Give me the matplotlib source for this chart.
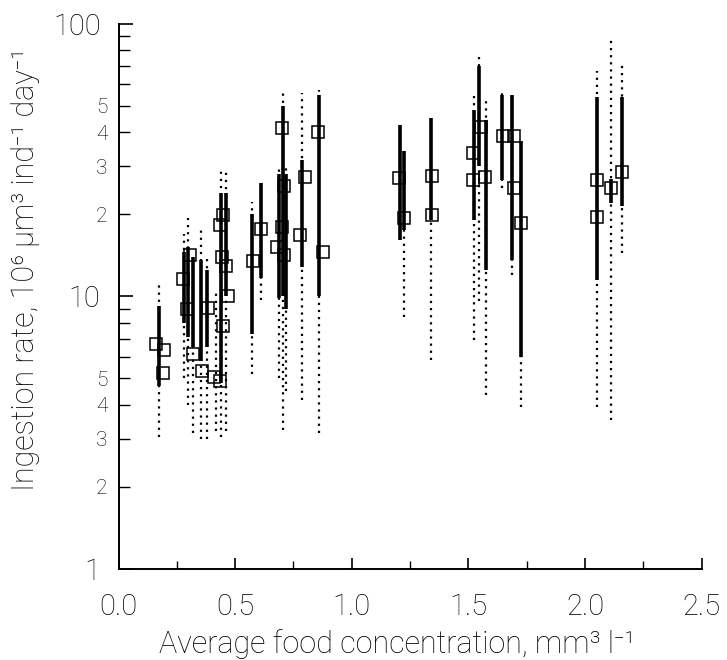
import matplotlib
matplotlib.use("Agg")
import matplotlib.pyplot as plt
from matplotlib.ticker import FixedLocator, FixedFormatter

# ---- data: vertical columns of individual observations ----
col_x       = [0.175, 0.28, 0.30, 0.32, 0.355, 0.38, 0.42, 0.44, 0.46,
               0.573, 0.613, 0.69, 0.705, 0.72, 0.788, 0.859,
               1.206, 1.224, 1.342, 1.524, 1.545, 1.574, 1.645, 1.688, 1.724,
               2.053, 2.113, 2.157]
col_top     = [11.0, 17.0, 19.4, 14.0, 17.5, 14.0, 10.6, 29.0, 28.7,
               22.2, 26.1, 30.0, 55.7, 30.0, 55.7, 57.1,
               42.4, 34.4, 45.1, 55.0, 75.9, 51.9, 55.7, 55.7, 37.5,
               66.9, 87.6, 71.8]
col_bottom  = [3.06, 5.0, 4.0, 3.15, 3.0, 3.0, 3.2, 3.06, 3.2,
               5.2, 9.7, 5.0, 3.23, 4.5, 4.17, 3.15,
               16.1, 8.4, 5.84, 6.9, 9.6, 4.35, 25.0, 12.0, 3.94,
               3.94, 3.52, 14.4]
dense_top   = [9.2, 14.5, 15.2, 14.0, 13.6, 12.5, 10.6, 24.0, 24.0,
               20.0, 26.0, 28.0, 50.0, 28.0, 31.6, 55.0,
               42.4, 34.0, 45.0, 48.3, 70.0, 44.5, 55.0, 55.0, 37.0,
               54.0, 27.0, 54.0]
dense_bot   = [4.7, 8.0, 7.1, 6.5, 5.8, 6.5, 10.6, 4.8, 10.0,
               7.3, 11.7, 9.9, 10.0, 9.0, 12.8, 10.0,
               16.1, 17.5, 19.0, 19.1, 30.0, 12.5, 26.7, 13.6, 6.0,
               11.5, 22.0, 21.4]

# ---- data: mean ingestion rates (open squares) ----
mean_x = [0.162, 0.194, 0.19, 0.276, 0.306, 0.295, 0.319, 0.385, 0.359,
          0.41, 0.437, 0.449, 0.437, 0.445, 0.463, 0.469, 0.447,
          0.578, 0.613, 0.70, 0.71, 0.70, 0.68, 0.71, 0.80, 0.78,
          0.856, 0.878, 1.202, 1.224, 1.345, 1.345, 1.521, 1.521,
          1.555, 1.571, 1.65, 1.695, 1.695, 1.724, 2.053, 2.053, 2.113, 2.157]
mean_y = [6.7, 6.35, 5.25, 11.6, 14.2, 9.0, 6.15, 9.1, 5.3,
          5.05, 4.9, 19.8, 18.2, 13.9, 12.9, 10.0, 7.8,
          13.5, 17.6, 41.5, 25.3, 17.9, 15.2, 14.2, 27.5, 16.8,
          40.2, 14.6, 27.1, 19.4, 27.7, 19.9, 33.7, 26.7,
          41.7, 27.5, 38.9, 38.8, 25.0, 18.6, 26.7, 19.5, 24.9, 28.6]

x_ticks = [0.0, 0.5, 1.0, 1.5, 2.0, 2.5]
x_ticklabels = ["0.0", "0.5", "1.0", "1.5", "2.0", "2.5"]
x_minor = [0.25, 0.75, 1.25, 1.75, 2.25]
y_major = [1, 10, 100]
y_major_labels = ["1", "10", "100"]
y_minor = [2, 3, 4, 5, 6, 7, 8, 9, 20, 30, 40, 50, 60, 70, 80, 90]
y_minor_labels = ["2", "3", "4", "5", "", "", "", "", "2", "3", "4", "5", "", "", "", ""]

plt.rcParams['font.family'] = ['Roboto', 'DejaVu Sans']
plt.rcParams['font.weight'] = 'light'
plt.rcParams['axes.labelweight'] = 'light'

fig = plt.figure(figsize=(7.27, 6.6), dpi=100)
ax = fig.add_axes([0.163, 0.138, 0.802, 0.826])
ax.set_yscale('log')
ax.set_xlim(0, 2.5)
ax.set_ylim(1, 100)

# sparse tails (dotted) and dense cores (solid)
ax.vlines(col_x, col_bottom, col_top, colors='black', lw=1.6,
          linestyles=(0, (1, 2.2)), zorder=2)
ax.vlines(col_x, dense_bot, dense_top, colors='black', lw=2.6, zorder=2)

ax.plot(mean_x, mean_y, linestyle='none', marker='s', markersize=9,
        markerfacecolor='none', markeredgecolor='black', markeredgewidth=1.1,
        zorder=3)

for s in ['top', 'right']:
    ax.spines[s].set_visible(False)
for s in ['left', 'bottom']:
    ax.spines[s].set_linewidth(1.4)

ax.xaxis.set_major_locator(FixedLocator(x_ticks))
ax.xaxis.set_major_formatter(FixedFormatter(x_ticklabels))
ax.xaxis.set_minor_locator(FixedLocator(x_minor))
ax.yaxis.set_major_locator(FixedLocator(y_major))
ax.yaxis.set_major_formatter(FixedFormatter(y_major_labels))
ax.yaxis.set_minor_locator(FixedLocator(y_minor))
ax.yaxis.set_minor_formatter(FixedFormatter(y_minor_labels))

ax.tick_params(axis='x', which='major', direction='in', length=8, width=1.2,
               labelsize=21, pad=17, colors='black')
ax.tick_params(axis='x', which='minor', direction='in', length=6, width=1.0)
ax.tick_params(axis='y', which='major', direction='in', length=10, width=1.2,
               labelsize=21, pad=13)
ax.tick_params(axis='y', which='minor', direction='in', length=8, width=1.0,
               labelsize=15, pad=8)

ax.set_xlabel('Average food concentration, mm³ l⁻¹', fontsize=22,
              fontweight='light')
ax.set_ylabel('Ingestion rate, 10⁶ µm³ ind⁻¹ day⁻¹', fontsize=22,
              fontweight='light')
ax.xaxis.set_label_coords(0.477, -0.110)
ax.yaxis.set_label_coords(-0.135, 0.55)

fig.savefig('out.png', dpi=100)
